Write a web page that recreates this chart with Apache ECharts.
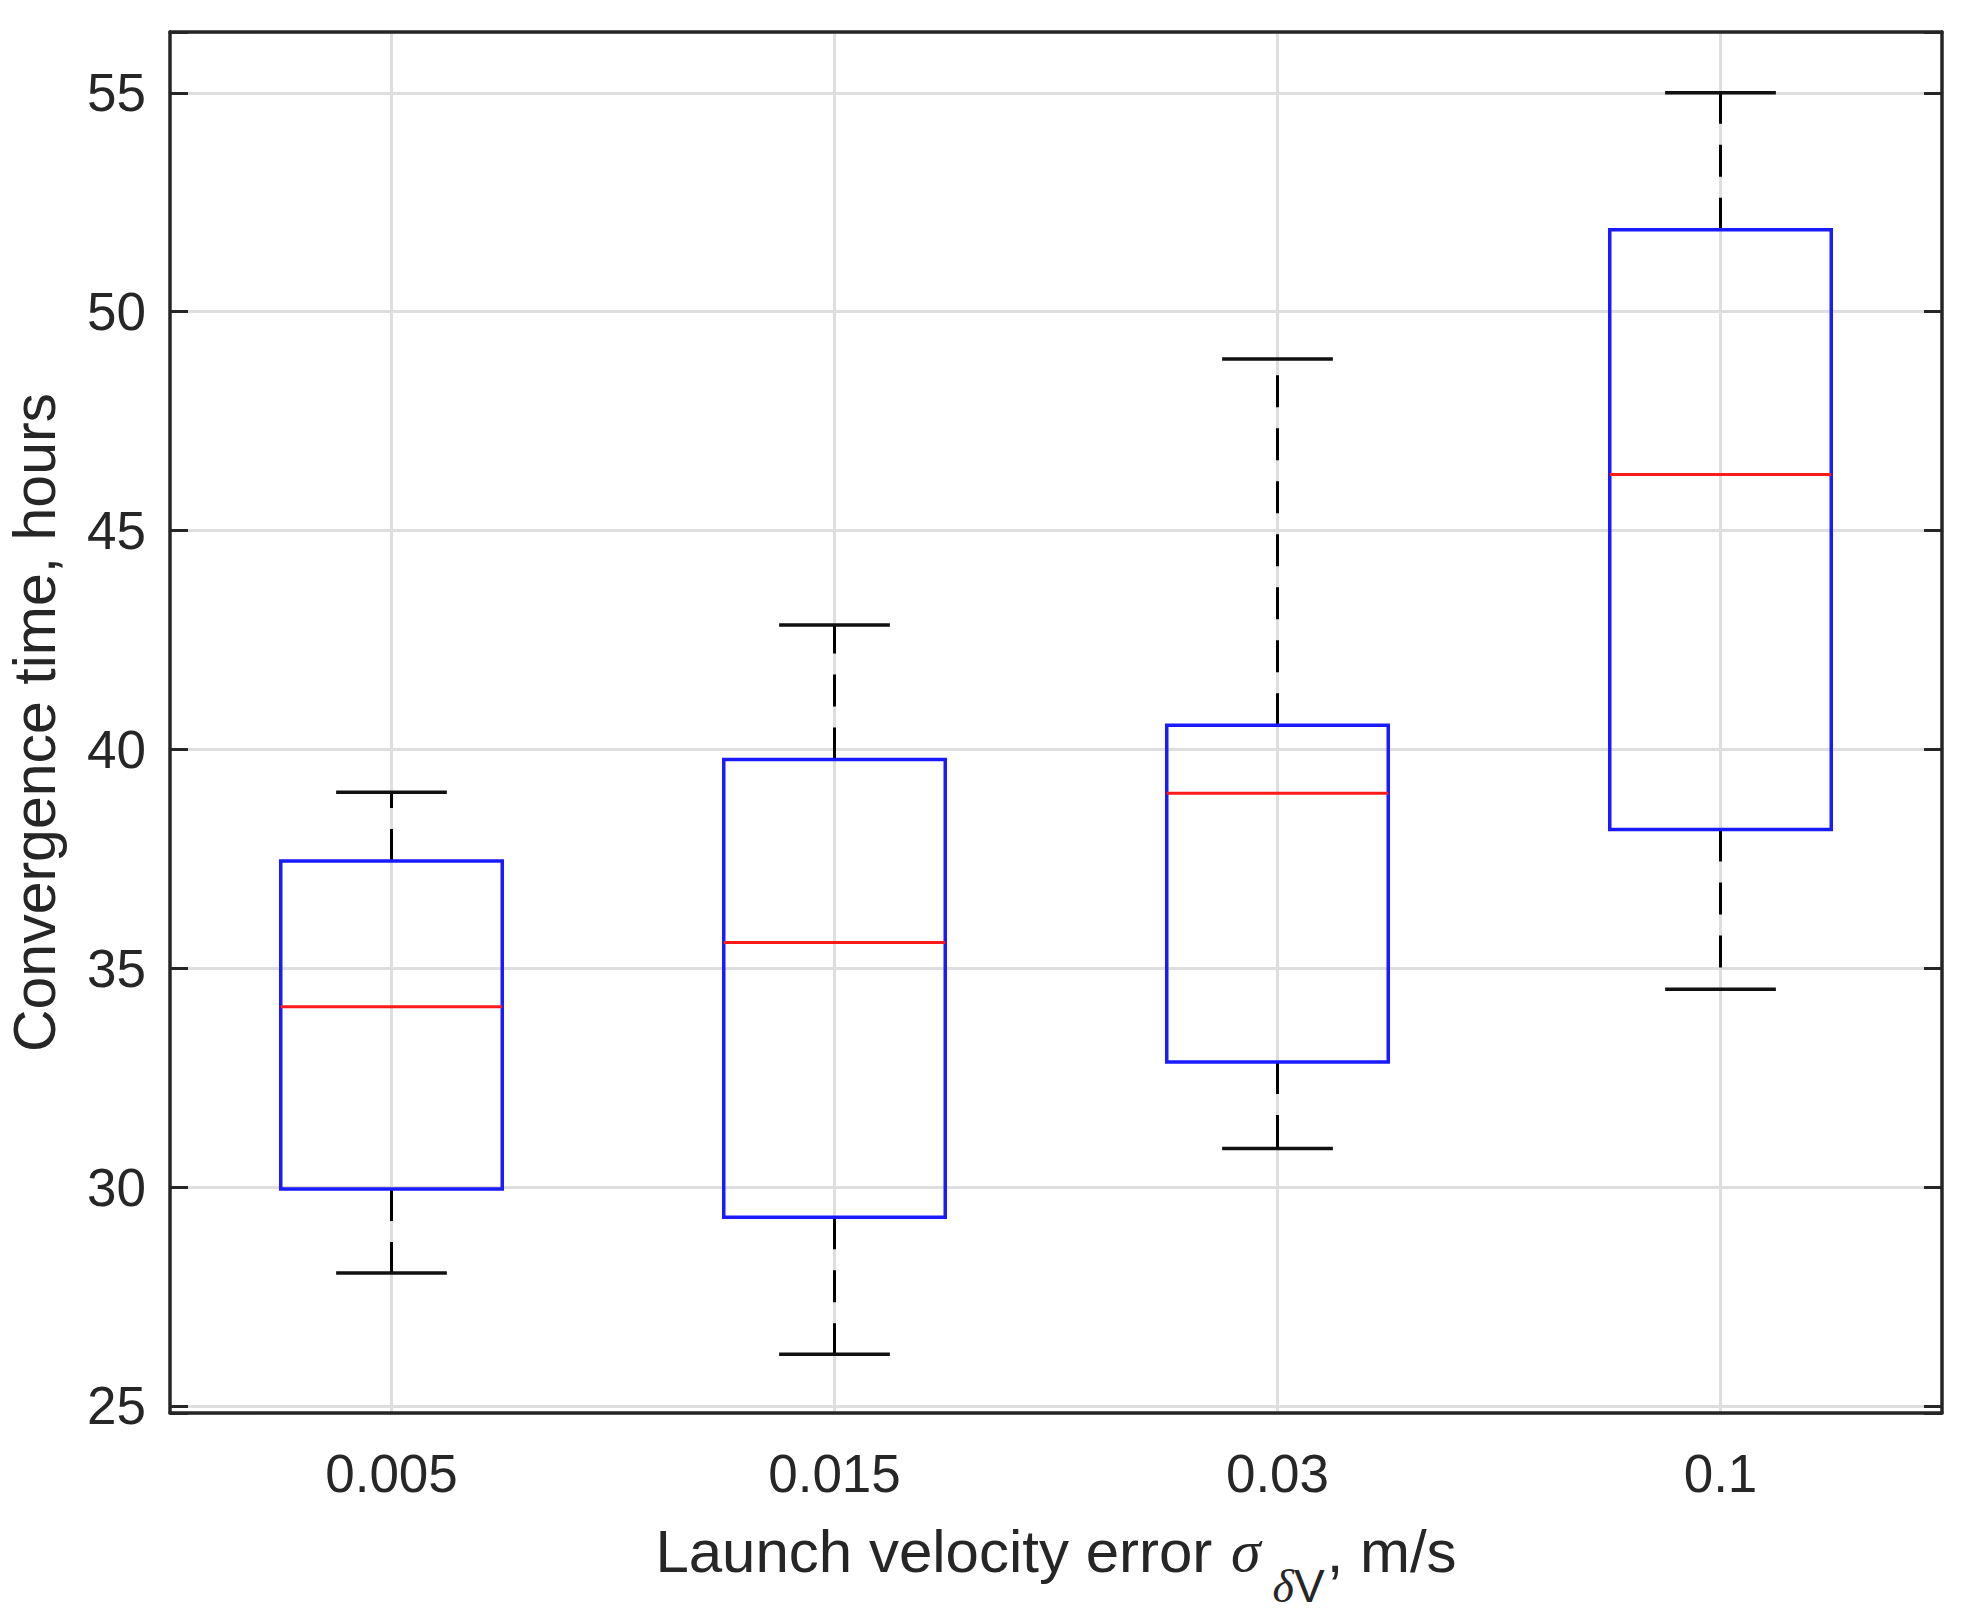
<!DOCTYPE html>
<html>
<head>
<meta charset="utf-8">
<script src="https://cdn.jsdelivr.net/npm/echarts@6/dist/echarts.min.js"></script>
<style>
html, body { margin: 0; padding: 0; background: #fff; }
#main { width: 1964px; height: 1620px; }
</style>
</head>
<body>
<div id="main"></div>
<script>
// box statistics per launch velocity error (hours)
var categories = ['0.005', '0.015', '0.03', '0.1'];
var whiskerLow = [28.04, 26.18, 30.88, 34.52];
var quartile1 = [29.96, 29.31, 32.86, 38.17];
var medians = [34.12, 35.59, 39.00, 46.28];
var quartile3 = [37.45, 39.77, 40.55, 51.87];
var whiskerHigh = [39.02, 42.84, 48.92, 55.00];
var yTicks = [25, 30, 35, 40, 45, 50, 55];
var yMin = 24.84, yMax = 56.39;

var font = '"Liberation Sans", Arial, Helvetica, sans-serif';
var serif = '"Liberation Serif", "Times New Roman", serif';
var ink = '#262626';

var boxData = categories.map(function (c, i) {
    return [i, whiskerLow[i], quartile1[i], medians[i], quartile3[i], whiskerHigh[i]];
});

function renderBox(params, api) {
    var i = api.value(0);
    var band = api.size([1, 0])[0];
    var half = band * 0.25, capHalf = band * 0.125;
    var pLow = api.coord([i, api.value(1)]);
    var pQ1 = api.coord([i, api.value(2)]);
    var pMed = api.coord([i, api.value(3)]);
    var pQ3 = api.coord([i, api.value(4)]);
    var pHigh = api.coord([i, api.value(5)]);
    var x = pMed[0];
    var dash = { stroke: '#000', lineWidth: 3, lineDash: [32, 21], fill: null };
    var solid = { stroke: '#111', lineWidth: 3.5, fill: null };
    return {
        type: 'group',
        children: [
            { type: 'line', shape: { x1: x, y1: pQ1[1], x2: x, y2: pLow[1] }, style: dash },
            { type: 'line', shape: { x1: x, y1: pQ3[1], x2: x, y2: pHigh[1] }, style: dash },
            { type: 'line', shape: { x1: x - capHalf, y1: pLow[1], x2: x + capHalf, y2: pLow[1] }, style: solid },
            { type: 'line', shape: { x1: x - capHalf, y1: pHigh[1], x2: x + capHalf, y2: pHigh[1] }, style: solid },
            { type: 'rect', shape: { x: x - half, y: pQ3[1], width: half * 2, height: pQ1[1] - pQ3[1] },
              style: { stroke: '#1a1aff', lineWidth: 3.5, fill: null } },
            { type: 'line', shape: { x1: x - half, y1: pMed[1], x2: x + half, y2: pMed[1] },
              style: { stroke: '#ff1a1a', lineWidth: 3, fill: null } }
        ]
    };
}

var chart = echarts.init(document.getElementById('main'), null, { renderer: 'svg' });

var option = {
    backgroundColor: '#fff',
    animation: false,
    grid: { left: 170, right: 22, top: 32, bottom: 207, containLabel: false, outerBoundsMode: 'none' },
    xAxis: [
        {
            type: 'category',
            data: categories,
            position: 'bottom',
            boundaryGap: true,
            axisLine: { onZero: false, lineStyle: { color: ink, width: 3.5 } },
            axisTick: { inside: true, length: 18, alignWithLabel: true, lineStyle: { color: ink, width: 3 } },
            axisLabel: { margin: 34, color: ink, fontSize: 53, fontFamily: font },
            splitLine: { show: true, alignWithLabel: true, lineStyle: { color: '#dedede', width: 3 } },
            name: '{a|Launch velocity error }{sig|σ}{d|δ}{v|V}{a|, m/s}',
            nameLocation: 'middle',
            nameGap: 108,
            nameTextStyle: {
                color: ink, fontSize: 60, fontFamily: font,
                rich: {
                    a: { fontSize: 60, fontFamily: font, color: ink, lineHeight: 60, verticalAlign: 'top' },
                    sig: { fontSize: 60, fontFamily: serif, fontStyle: 'italic', color: ink, lineHeight: 60,
                           verticalAlign: 'top', padding: [0, 12, 0, 2] },
                    d: { fontSize: 46, fontFamily: serif, fontStyle: 'italic', color: ink, lineHeight: 88, verticalAlign: 'bottom' },
                    v: { fontSize: 46, fontFamily: font, color: ink, lineHeight: 88, verticalAlign: 'bottom', padding: [0, 2, 0, 0] }
                }
            }
        },
        {
            type: 'category',
            data: categories,
            position: 'top',
            boundaryGap: true,
            axisLine: { onZero: false, lineStyle: { color: ink, width: 3.5 } },
            axisTick: { inside: true, length: 18, alignWithLabel: true, lineStyle: { color: ink, width: 3 } },
            axisLabel: { show: false },
            splitLine: { show: false }
        }
    ],
    yAxis: [
        {
            type: 'value',
            min: yMin,
            max: yMax,
            position: 'left',
            axisLine: { show: true, lineStyle: { color: ink, width: 3.5 } },
            axisTick: { show: true, inside: true, length: 18, lineStyle: { color: ink, width: 3 } },
            axisLabel: {
                margin: 24, color: ink, fontSize: 53, fontFamily: font,
                formatter: function (v) { return yTicks.indexOf(Math.round(v * 100) / 100) >= 0 ? String(v) : ''; }
            },
            splitLine: { show: true, lineStyle: { color: '#dedede', width: 3 } },
            name: 'Convergence time, hours',
            nameLocation: 'middle',
            nameGap: 106,
            nameTextStyle: { color: ink, fontSize: 59, fontFamily: font, lineHeight: 58 }
        },
        {
            type: 'value',
            min: yMin,
            max: yMax,
            position: 'right',
            axisLine: { show: true, lineStyle: { color: ink, width: 3.5 } },
            axisTick: { show: true, inside: true, length: 18, lineStyle: { color: ink, width: 3 } },
            axisLabel: { show: false },
            splitLine: { show: false }
        }
    ],
    series: [
        {
            type: 'custom',
            xAxisIndex: 0,
            yAxisIndex: 0,
            renderItem: renderBox,
            encode: { x: 0, y: [1, 2, 3, 4, 5] },
            data: boxData
        }
    ]
};

chart.setOption(option);
</script>
</body>
</html>
